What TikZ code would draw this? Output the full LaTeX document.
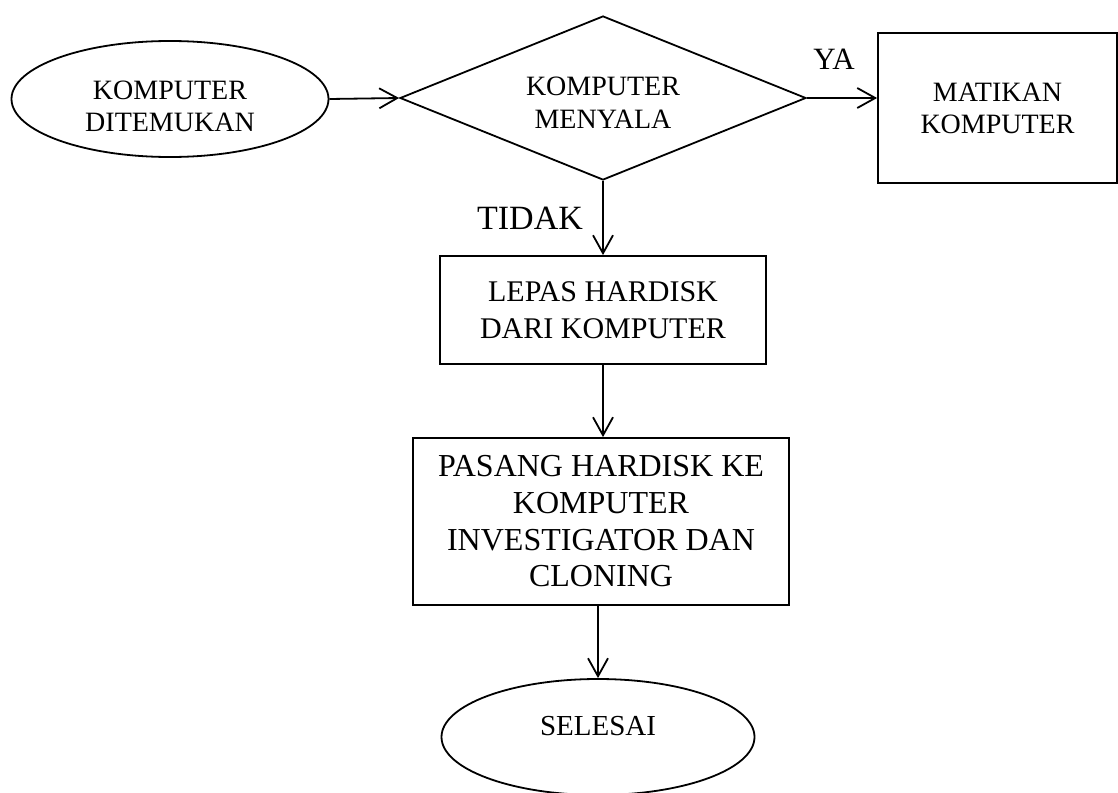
\documentclass[tikz,border=0pt]{standalone}
\usepackage{fontspec}
\setmainfont{Liberation Serif}
\usetikzlibrary{shapes.geometric, arrows.meta}

\begin{document}
\begin{tikzpicture}[x=1pt, y=-1pt, line width=1.8pt,
    every node/.style={align=center, inner sep=0pt},
    oval/.style={draw, ellipse, minimum width=317pt, minimum height=116pt},
    box/.style={draw, rectangle},
    cek/.style={draw, diamond, aspect=2.5, minimum width=406pt, minimum height=164pt},
    panah/.style={-{Straight Barb[length=18pt, width=20pt]}}]
      \useasboundingbox (0,0) rectangle (1118,792);

      \node[oval, text height=64pt, text depth=0pt,
            font=\fontsize{28}{32}\selectfont]        (K) at ( 170,  99)  {KOMPUTER \\ DITEMUKAN};
      \node[cek,  text height=60pt, text depth=0pt,
            font=\fontsize{28}{33}\selectfont]        (D) at ( 603,  98)  {KOMPUTER \\ MENYALA};
      \node[box,  minimum width=239pt, minimum height=150pt,
            font=\fontsize{28}{32}\selectfont]        (M) at ( 997.5, 108) {MATIKAN \\ KOMPUTER};

      \node[box,  minimum width=326pt, minimum height=108pt,
            font=\fontsize{30}{37}\selectfont]        (L) at ( 603, 310)  {LEPAS HARDISK \\ DARI KOMPUTER};
      \node[box,  minimum width=376pt, minimum height=167pt,
            font=\fontsize{32}{36.7}\selectfont]      (P) at ( 601, 521.5) {PASANG HARDISK KE \\ KOMPUTER \\ INVESTIGATOR DAN \\ CLONING};
      \node[oval, minimum width=313pt, text height=0pt, text depth=4pt,
            font=\fontsize{29}{33}\selectfont]        (S) at ( 598, 737)  {SELESAI};

      \node[font=\fontsize{31}{36}\selectfont]        (Y) at ( 834,  59)  {YA};
      \node[font=\fontsize{34}{40}\selectfont]        (T) at ( 530, 218)  {TIDAK};

      \draw[panah] (K.east) -- (D.west);
      \draw[panah] (D.east) -- (D.east -| M.west);
      \draw[panah] (D.south) -- (L.north);
      \draw[panah] (L.south) -- (L.south |- P.north);
      \draw[panah] (S.north |- P.south) -- (S.north);
    \end{tikzpicture}
\end{document}
